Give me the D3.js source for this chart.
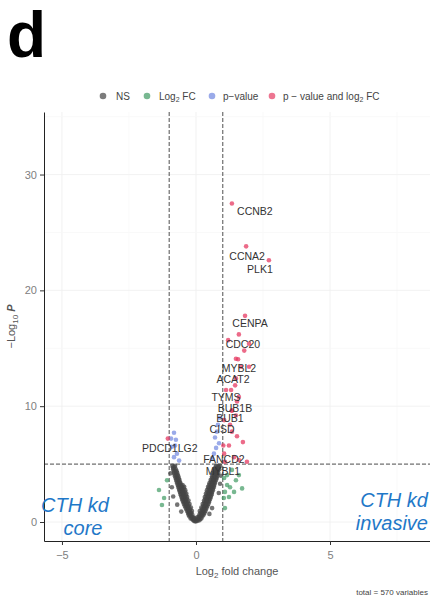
<!DOCTYPE html>
<html>
<head>
<meta charset="utf-8">
<script src="https://cdn.jsdelivr.net/npm/d3@7"></script>
<style>
  body { margin: 0; background: #fff; }
  text { font-family: "Liberation Sans", Arial, sans-serif; }
</style>
</head>
<body>
<div id="chart"></div>
<script>
// Labelled genes: name, log2 fold change, -log10 p
var labelNames = ["CCNB2", "CCNA2", "PLK1", "CENPA", "CDC20", "MYBL2", "ACAT2", "TYMS", "BUB1B", "BUB1", "CISD", "PDCD1LG2", "FANCD2", "MYBL1"];
var labelFC = [1.34, 1.87, 2.72, 1.83, 1.6, 1.49, 1.68, 1.12, 1.53, 1.34, 1.05, -1.05, 1.6, 1.08];
var labelP = [27.5, 23.8, 22.6, 17.8, 16.2, 14.1, 13.4, 11.4, 10.4, 9.6, 8.8, 7.2, 5.35, 5.2];

// other points above both cutoffs (red)
var bothPts = [[1.98, 15.4], [1.57, 14.05], [1.98, 13.4], [1.49, 12.4], [1.31, 11.4], [1.6, 10.8],
  [1.34, 9.65], [1.49, 9.2], [1.02, 6.6], [1.23, 6.6], [1.05, 5.9], [1.42, 5.6], [1.9, 5.2],
  [1.53, 7.4], [1.75, 6.9], [1.34, 7.8], [1.2, 15.7], [1.8, 14.8], [1.46, 11.8], [1.27, 8.4]];

// p-value only (blue)
var pvalPts = [[-0.82, 7.7], [-0.75, 7.1], [-0.9, 6.5], [-0.71, 5.9], [-0.63, 5.3], [-0.82, 5.6],
  [-0.93, 7.2], [-0.78, 6.6], [0.78, 7.8], [0.71, 7.3], [0.86, 6.8], [0.75, 6.4], [0.67, 5.9],
  [0.82, 8.4], [0.6, 5.5], [0.9, 9.0]];

// log2 FC only (green)
var fcPts = [[-1.19, 2.07], [-1.38, 2.76], [-1.27, 1.47], [-1.08, 3.6], [1.16, 3.2], [1.08, 2.6],
  [1.04, 2.07], [1.23, 2.16], [1.49, 3.6], [1.16, 4.05], [1.42, 2.6], [1.6, 4.05], [1.34, 4.5],
  [1.08, 1.2], [1.27, 3.0], [1.72, 2.9], [1.05, 3.8]];

// not significant (grey)
var nsPts = [
  [-0.12, 0.2], [-0.08, 0.1], [-0.05, 0.15], [-0.02, 0.05], [0.0, 0.1], [0.03, 0.2], [0.06, 0.1], [0.1, 0.25], [0.13, 0.15], [-0.15, 0.3], [0.16, 0.3],
  [-0.2, 0.3], [0.2, 0.3], [-0.1, 0.3], [0.08, 0.3],
  [-0.25, 0.5], [-0.2, 0.55], [-0.17, 0.45], [-0.1, 0.4], [0.1, 0.45], [0.15, 0.5], [0.2, 0.55], [0.24, 0.5], [-0.06, 0.35], [0.05, 0.4],
  [-0.28, 0.65], [-0.14, 0.65], [0.13, 0.65], [0.29, 0.65], [-0.22, 0.65], [0.24, 0.65],
  [-0.3, 0.8], [-0.26, 0.85], [-0.22, 0.75], [-0.18, 0.8], [0.17, 0.8], [0.22, 0.75], [0.27, 0.85], [0.32, 0.8],
  [-0.33, 0.95], [-0.24, 0.95], [0.25, 0.95], [0.35, 0.95], [-0.15, 0.95], [0.14, 0.95],
  [-0.36, 1.1], [-0.31, 1.15], [-0.27, 1.05], [-0.22, 1.1], [0.22, 1.1], [0.27, 1.05], [0.32, 1.15], [0.37, 1.1],
  [-0.39, 1.25], [-0.29, 1.25], [-0.19, 1.25], [0.2, 1.25], [0.3, 1.25], [0.4, 1.25],
  [-0.42, 1.4], [-0.37, 1.45], [-0.32, 1.35], [-0.27, 1.4], [0.27, 1.4], [0.33, 1.35], [0.38, 1.45], [0.43, 1.4],
  [-0.45, 1.55], [-0.34, 1.55], [-0.24, 1.55], [0.25, 1.55], [0.35, 1.55], [0.46, 1.55],
  [-0.47, 1.7], [-0.42, 1.75], [-0.37, 1.65], [-0.31, 1.7], [0.31, 1.7], [0.37, 1.65], [0.43, 1.75], [0.48, 1.7],
  [-0.5, 1.85], [-0.39, 1.85], [-0.28, 1.85], [0.3, 1.85], [0.4, 1.85], [0.5, 1.85],
  [-0.52, 2.0], [-0.47, 2.05], [-0.41, 1.95], [-0.35, 2.0], [0.35, 2.0], [0.41, 1.95], [0.47, 2.05], [0.53, 2.0],
  [-0.54, 2.15], [-0.43, 2.15], [-0.33, 2.15], [0.33, 2.15], [0.44, 2.15], [0.55, 2.15],
  [-0.56, 2.3], [-0.5, 2.35], [-0.44, 2.25], [-0.38, 2.3], [0.39, 2.3], [0.45, 2.25], [0.51, 2.35], [0.57, 2.3],
  [-0.58, 2.45], [-0.47, 2.45], [-0.36, 2.45], [0.37, 2.45], [0.48, 2.45], [0.59, 2.45],
  [-0.6, 2.6], [-0.54, 2.65], [-0.48, 2.55], [-0.42, 2.6], [0.43, 2.6], [0.49, 2.55], [0.55, 2.65], [0.6, 2.6],
  [-0.62, 2.75], [-0.51, 2.75], [-0.4, 2.75], [0.41, 2.75], [0.52, 2.75], [0.63, 2.75],
  [-0.64, 2.9], [-0.58, 2.95], [-0.52, 2.85], [-0.46, 2.9], [0.47, 2.9], [0.53, 2.85], [0.59, 2.95], [0.64, 2.9],
  [-0.66, 3.05], [-0.54, 3.05], [-0.44, 3.05], [0.45, 3.05], [0.56, 3.05], [0.67, 3.05],
  [-0.68, 3.2], [-0.62, 3.25], [-0.55, 3.15], [-0.5, 3.2], [0.5, 3.2], [0.57, 3.15], [0.63, 3.25], [0.68, 3.2],
  [-0.7, 3.35], [-0.58, 3.35], [0.5, 3.35], [0.59, 3.35], [0.7, 3.35],
  [-0.72, 3.5], [-0.66, 3.55], [-0.6, 3.45], [0.55, 3.5], [0.61, 3.45], [0.67, 3.55], [0.72, 3.5],
  [-0.74, 3.65], [-0.62, 3.65], [0.55, 3.65], [0.64, 3.65], [0.75, 3.65],
  [-0.76, 3.8], [-0.7, 3.85], [-0.64, 3.75], [0.6, 3.8], [0.66, 3.75], [0.72, 3.85], [0.77, 3.8],
  [-0.78, 3.95], [-0.66, 3.95], [0.6, 3.95], [0.68, 3.95], [0.79, 3.95],
  [-0.8, 4.1], [-0.74, 4.15], [-0.68, 4.05], [0.64, 4.1], [0.7, 4.05], [0.76, 4.15], [0.8, 4.1],
  [-0.82, 4.25], [-0.7, 4.25], [0.63, 4.25], [0.72, 4.25], [0.83, 4.25],
  [-0.83, 4.4], [-0.77, 4.45], [-0.72, 4.35], [0.68, 4.4], [0.75, 4.35], [0.81, 4.45],
  [-0.85, 4.55], [-0.75, 4.55], [0.7, 4.55], [0.78, 4.55], [0.87, 4.55],
  [-0.86, 4.7], [-0.8, 4.75], [0.72, 4.7], [0.79, 4.65], [0.85, 4.75],
  [-0.88, 4.85], [-0.78, 4.85], [0.75, 4.85], [0.83, 4.85], [0.9, 4.85],
  [-0.9, 3.0], [-0.85, 2.2], [0.85, 2.5], [0.9, 3.3], [-0.7, 1.5], [0.6, 1.2], [-0.55, 0.9], [0.5, 0.7], [-0.95, 4.2], [0.93, 4.0]
];

var xTicks = [-5, 0, 5];
var yTicks = [0, 10, 20, 30];
var fcCut = 1, pCut = 5;

// label nudges in pixels (layout only)
var labelNudge = [[23, 8], [1, 10], [-9, 9], [5, 7], [4, 10], [3, 9], [-8, 12], [0, 7], [-2, 6], [-2, 7.5], [-2, 9], [2, 9], [-15, -1], [-2, 9]];

var width = 430, height = 601;
var svg = d3.select("#chart").append("svg")
  .attr("width", width)
  .attr("height", height);

var panel = { left: 44, right: 430, top: 112, bottom: 541 };

var x = d3.scaleLinear().domain([-5.67, 8.73]).range([panel.left, panel.right]);
var y = d3.scaleLinear().domain([-1.64, 35.4]).range([panel.bottom, panel.top]);

// panel letter
svg.append("text")
  .attr("x", 7).attr("y", 57)
  .attr("font-size", 64).attr("font-weight", "bold")
  .attr("fill", "#000")
  .text("d");

// faint gridlines
var grid = svg.append("g");
[-5, -2.5, 0, 2.5, 5, 7.5].forEach(function(v) {
  grid.append("line")
    .attr("x1", x(v)).attr("x2", x(v))
    .attr("y1", panel.top).attr("y2", panel.bottom)
    .attr("stroke", v % 5 === 0 ? "#efefef" : "#f7f7f7").attr("stroke-width", 0.8);
});
[0, 5, 10, 15, 20, 25, 30, 35].forEach(function(v) {
  grid.append("line")
    .attr("x1", panel.left).attr("x2", panel.right)
    .attr("y1", y(v)).attr("y2", y(v))
    .attr("stroke", v % 10 === 0 ? "#efefef" : "#f7f7f7").attr("stroke-width", 0.8);
});

// axes
var xAxis = svg.append("g")
  .attr("transform", "translate(0," + panel.bottom + ")")
  .call(d3.axisBottom(x).tickValues(xTicks).tickSize(4).tickSizeOuter(0).tickFormat(d3.format("d")));
var yAxis = svg.append("g")
  .attr("transform", "translate(" + panel.left + ",0)")
  .call(d3.axisLeft(y).tickValues(yTicks).tickSize(4).tickSizeOuter(0));

[xAxis, yAxis].forEach(function(a) {
  a.select(".domain").attr("stroke", "#222").attr("stroke-width", 1);
  a.selectAll(".tick line").attr("stroke", "#333");
  a.selectAll(".tick text").attr("fill", "#808080").attr("font-size", 11)
    .attr("font-family", "Liberation Sans, Arial, sans-serif");
});
xAxis.selectAll(".tick text").attr("dy", "1.0em");

// axis titles
var xt = svg.append("text")
  .attr("x", (panel.left + panel.right) / 2).attr("y", 575)
  .attr("text-anchor", "middle").attr("font-size", 11).attr("fill", "#555");
xt.append("tspan").text("Log");
xt.append("tspan").attr("font-size", 8).attr("dy", 3).text("2");
xt.append("tspan").attr("dy", -3).text(" fold change");

var yt = svg.append("text")
  .attr("transform", "translate(15," + ((panel.top + panel.bottom) / 2) + ") rotate(-90)")
  .attr("text-anchor", "middle").attr("font-size", 11).attr("fill", "#555");
yt.append("tspan").text("\u2212Log");
yt.append("tspan").attr("font-size", 8).attr("dy", 3).text("10");
yt.append("tspan").attr("dy", -3).text(" ");
yt.append("tspan").attr("font-style", "italic").attr("font-weight", "bold").text("P");

// cutoff lines
var cut = svg.append("g").attr("stroke", "#222").attr("stroke-width", 0.8).attr("stroke-dasharray", "4,2");
[-fcCut, fcCut].forEach(function(v) {
  cut.append("line").attr("x1", x(v)).attr("x2", x(v)).attr("y1", panel.top).attr("y2", panel.bottom);
});
cut.append("line").attr("x1", panel.left).attr("x2", panel.right).attr("y1", y(pCut)).attr("y2", y(pCut));

// points
var colNS = "#454545", colFC = "#3f9a62", colP = "#6f86e0", colBoth = "#e63a62";
function drawPts(pts, col, op) {
  svg.append("g").selectAll("circle")
    .data(pts)
    .enter()
    .append("circle")
    .attr("cx", d => x(d[0]))
    .attr("cy", d => y(d[1]))
    .attr("r", 2.3)
    .attr("fill", col)
    .attr("opacity", op);
}
drawPts(nsPts, colNS, 0.75);
drawPts(fcPts, colFC, 0.7);
drawPts(pvalPts, colP, 0.7);
drawPts(bothPts, colBoth, 0.75);
var labelled = labelNames.map((n, i) => ({ name: n, fc: labelFC[i], p: labelP[i], nudge: labelNudge[i] }));
drawPts(labelled.map(d => [d.fc, d.p]), colBoth, 0.75);

// gene labels
svg.append("g").selectAll("text")
  .data(labelled)
  .enter()
  .append("text")
  .attr("x", d => x(d.fc) + d.nudge[0])
  .attr("y", d => y(d.p) + d.nudge[1])
  .attr("text-anchor", "middle")
  .attr("dominant-baseline", "central")
  .attr("font-size", 10.5)
  .attr("fill", "#333")
  .text(d => d.name);

// annotations
var blue = "#1f78c8";
function note(txt, xx, yy, anchor) {
  svg.append("text").attr("x", xx).attr("y", yy)
    .attr("text-anchor", anchor).attr("font-size", 20).attr("font-style", "italic")
    .attr("fill", blue).text(txt);
}
note("CTH kd", 75, 512, "middle");
note("core", 83, 535, "middle");
note("CTH kd", 428, 507, "end");
note("invasive", 428, 530, "end");

// legend
var legendItems = [
  { col: colNS, x: 103 },
  { col: colFC, x: 147 },
  { col: colP, x: 212 },
  { col: colBoth, x: 272 }
];
var leg = svg.append("g");
legendItems.forEach(function(d) {
  leg.append("circle").attr("cx", d.x).attr("cy", 96).attr("r", 3.3).attr("fill", d.col).attr("opacity", 0.7);
});
function legText(xx) {
  return leg.append("text").attr("x", xx).attr("y", 99.5).attr("font-size", 10).attr("fill", "#444");
}
legText(116).text("NS");
var l2 = legText(159);
l2.append("tspan").text("Log");
l2.append("tspan").attr("font-size", 7).attr("dy", 2).text("2");
l2.append("tspan").attr("dy", -2).text(" FC");
legText(223).text("p\u2212value");
var l4 = legText(283);
l4.append("tspan").text("p \u2212 value and log");
l4.append("tspan").attr("font-size", 7).attr("dy", 2).text("2");
l4.append("tspan").attr("dy", -2).text(" FC");

// caption
svg.append("text")
  .attr("x", 428).attr("y", 595)
  .attr("text-anchor", "end").attr("font-size", 8).attr("fill", "#444")
  .text("total = 570 variables");
</script>
</body>
</html>
